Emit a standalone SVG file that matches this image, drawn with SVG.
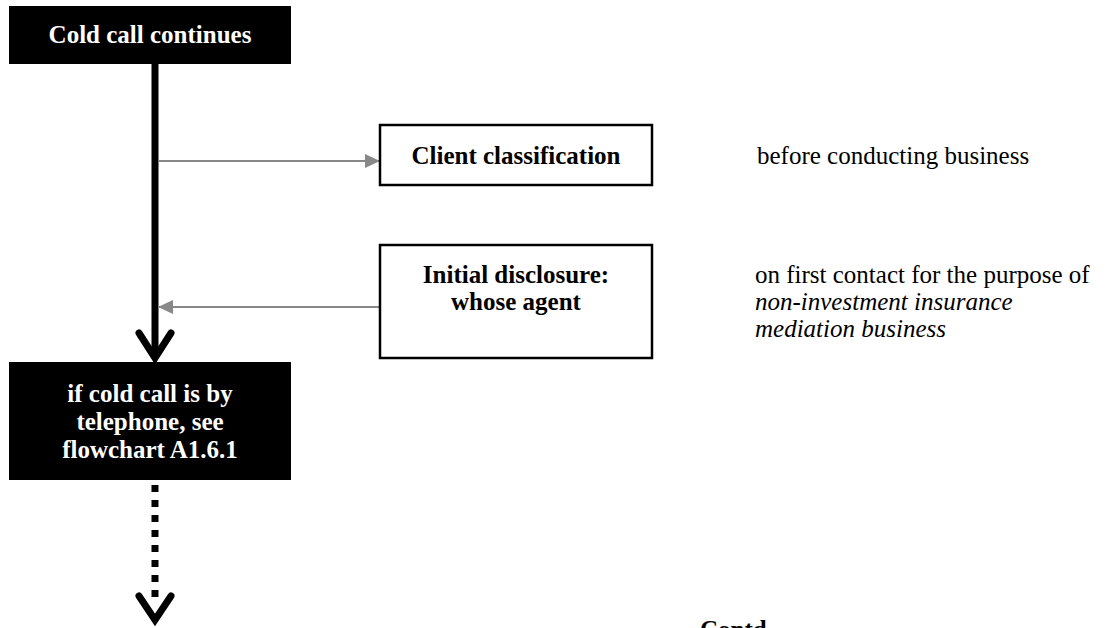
<svg xmlns="http://www.w3.org/2000/svg" width="1112" height="628" viewBox="0 0 1112 628">
  <style>
    .dark { fill: #000; }
    .plain { fill: #fff; stroke: #000; stroke-width: 2.5; }
    .lbl { font-family: "Liberation Serif", "Times New Roman", serif; font-size: 25px; font-weight: bold; text-anchor: middle; }
    .lbl-w { fill: #fff; }
    .note { font-family: "Liberation Serif", "Times New Roman", serif; font-size: 25px; fill: #000; }
    .it { font-style: italic; }
    .main { stroke: #000; stroke-width: 7; fill: none; }
    .chev { stroke: #000; stroke-width: 7; fill: none; stroke-linejoin: miter; stroke-linecap: round; }
    .side { stroke: #888; stroke-width: 2; fill: none; }
  </style>
  <defs>
    <marker id="tri" viewBox="0 0 15 14" refX="15" refY="7" markerWidth="15" markerHeight="14" markerUnits="userSpaceOnUse" orient="auto">
      <path d="M0,0 L15,7 L0,14 Z" fill="#888"/>
    </marker>
  </defs>

  <rect width="1112" height="628" fill="#fff"/>

  <!-- connectors -->
  <g id="connectors">
    <line class="main" x1="155" y1="64" x2="155" y2="356"/>
    <polyline class="chev" points="139,333 155,358 171,333"/>
    <line class="main" x1="155" y1="485" x2="155" y2="600" stroke-dasharray="7 8"/>
    <polyline class="chev" points="139,596 155,620 171,596"/>
    <line class="side" x1="159" y1="161" x2="380" y2="161" marker-end="url(#tri)"/>
    <line class="side" x1="380" y1="307" x2="158" y2="307" marker-end="url(#tri)"/>
  </g>

  <g id="cold-call-continues">
    <rect class="dark" x="9" y="6" width="282" height="58"/>
    <text class="lbl lbl-w" x="150" y="43">Cold call continues</text>
  </g>

  <g id="client-classification">
    <rect class="plain" x="380" y="125" width="272" height="60"/>
    <text class="lbl" x="516" y="164">Client classification</text>
  </g>

  <g id="initial-disclosure">
    <rect class="plain" x="380" y="245" width="272" height="113"/>
    <text class="lbl" x="516" y="283">Initial disclosure:</text>
    <text class="lbl" x="516" y="310">whose agent</text>
  </g>

  <g id="telephone">
    <rect class="dark" x="9" y="362" width="282" height="118"/>
    <text class="lbl lbl-w" x="150" y="402">if cold call is by</text>
    <text class="lbl lbl-w" x="150" y="430">telephone, see</text>
    <text class="lbl lbl-w" x="150" y="458">flowchart A1.6.1</text>
  </g>

  <g id="notes">
    <text class="note" x="757" y="164">before conducting business</text>
    <text class="note" x="755" y="283">on first contact for the purpose of</text>
    <text class="note it" x="755" y="310">non-investment insurance</text>
    <text class="note it" x="755" y="337">mediation business</text>
  </g>

  <g id="contd">
    <text class="lbl" x="700" y="638" style="text-anchor:start">Contd</text>
  </g>
</svg>
